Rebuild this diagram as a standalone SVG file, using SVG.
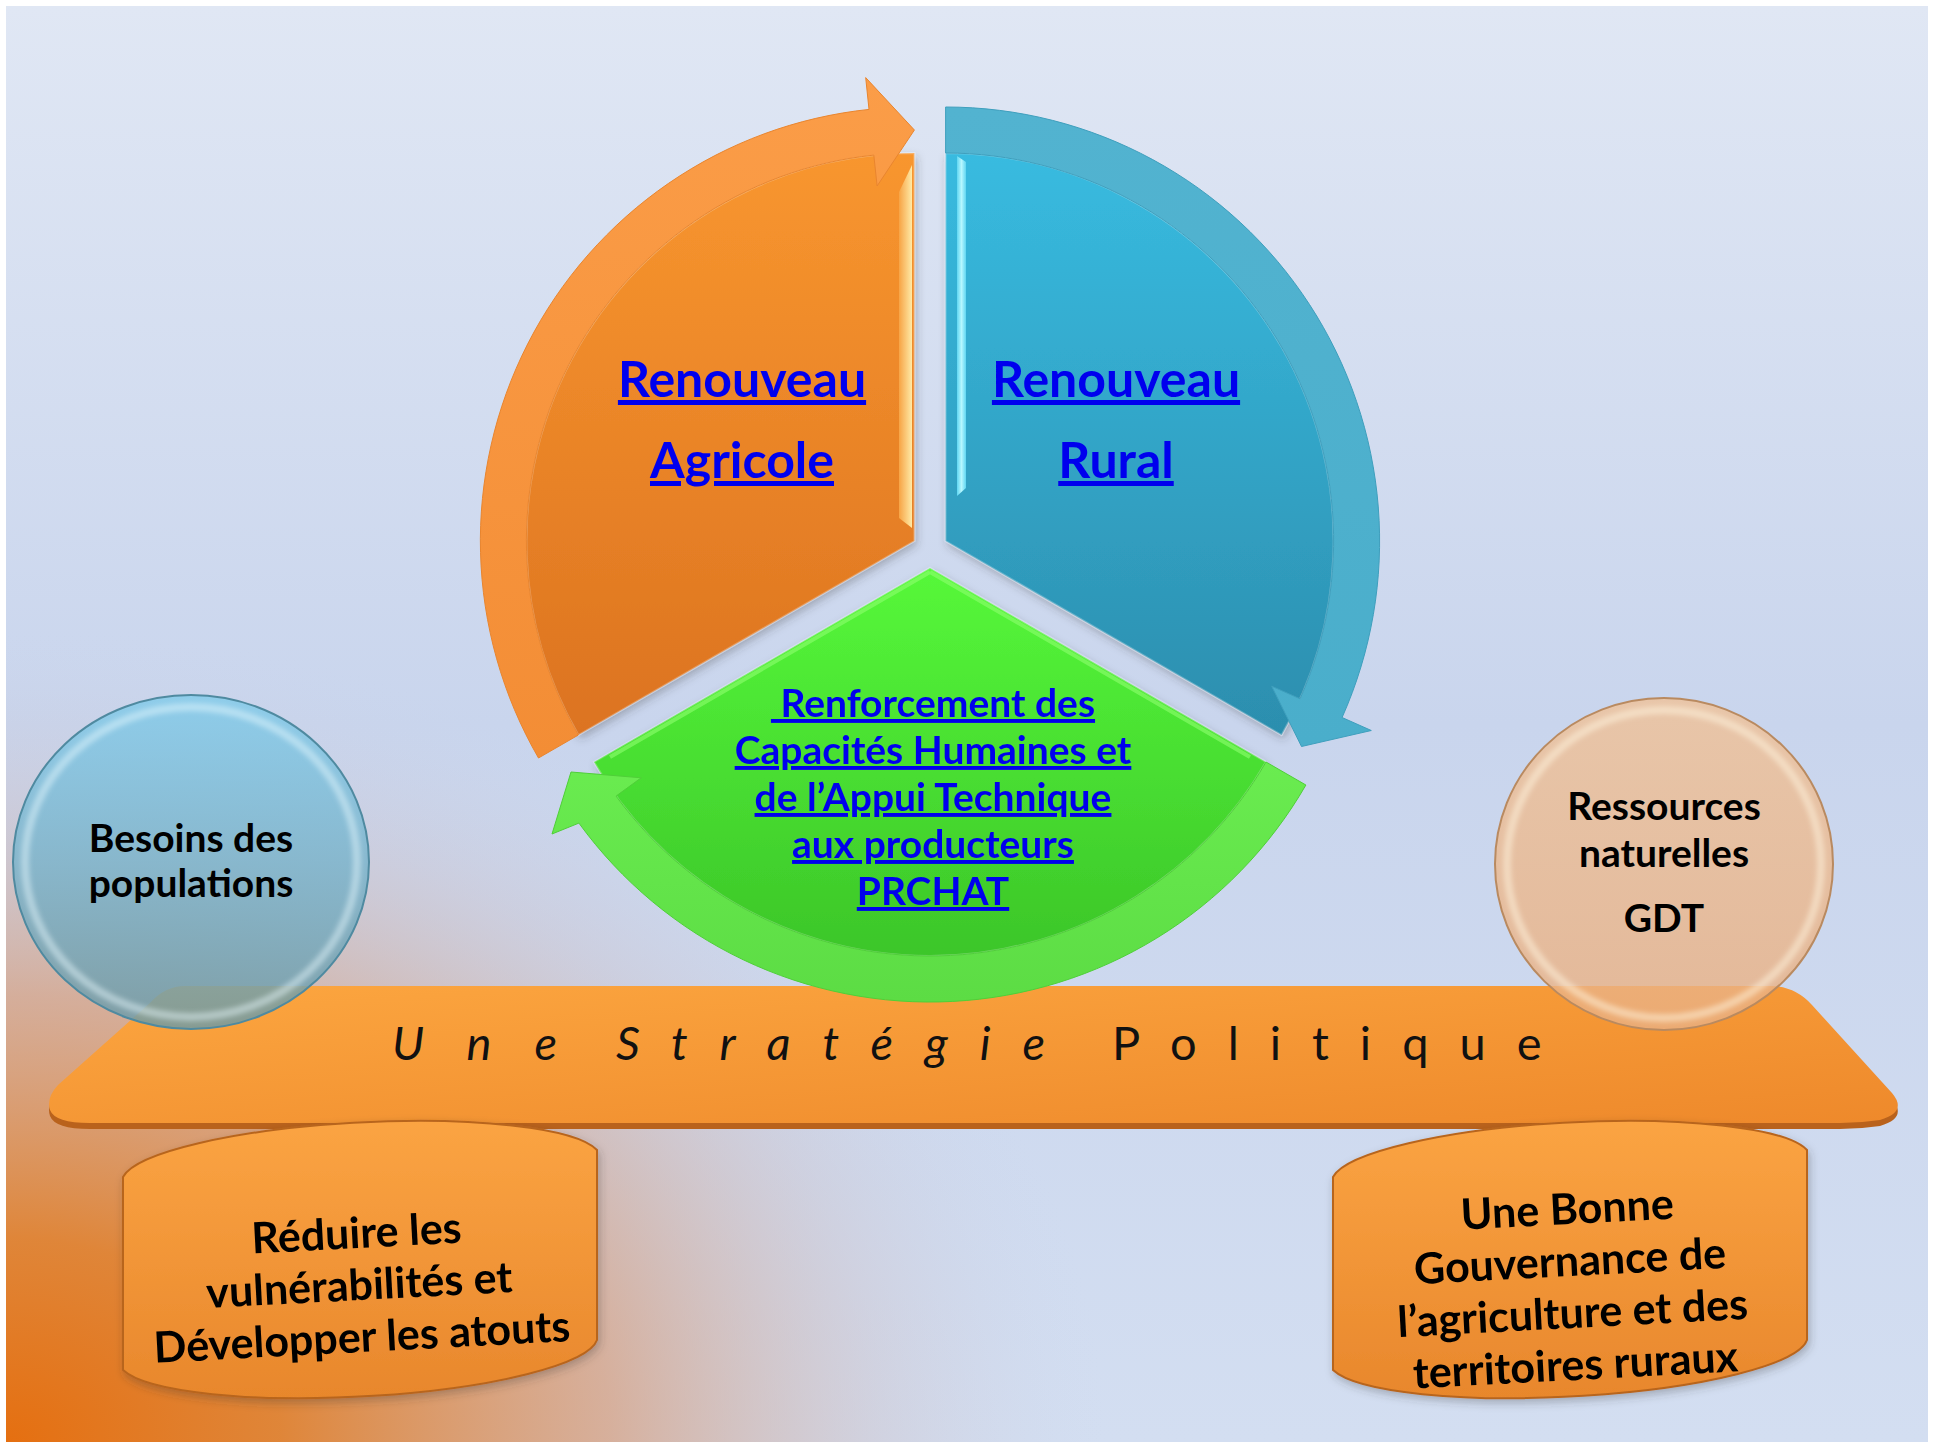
<svg xmlns="http://www.w3.org/2000/svg" width="1933" height="1442" viewBox="0 0 1933 1442">
<defs>
  <linearGradient id="bgBase" x1="0" y1="0" x2="0" y2="1">
    <stop offset="0" stop-color="#e0e7f4"/>
    <stop offset="0.5" stop-color="#c9d5ed"/>
    <stop offset="1" stop-color="#d3def1"/>
  </linearGradient>
  <radialGradient id="bgOrange" gradientUnits="userSpaceOnUse" cx="6" cy="1442" r="1100" gradientTransform="translate(6 1442) scale(1 0.74) translate(-6 -1442)">
    <stop offset="0" stop-color="#e56f10"/>
    <stop offset="0.25" stop-color="#e0812f" stop-opacity="0.95"/>
    <stop offset="0.55" stop-color="#d89c78" stop-opacity="0.7"/>
    <stop offset="0.8" stop-color="#cdbcc0" stop-opacity="0.32"/>
    <stop offset="1" stop-color="#c9d5ed" stop-opacity="0"/>
  </radialGradient>
  <linearGradient id="gOrFace" x1="0" y1="0" x2="0" y2="1">
    <stop offset="0" stop-color="#f8962f"/>
    <stop offset="1" stop-color="#dc7320"/>
  </linearGradient>
  <linearGradient id="gOrBand" x1="0" y1="0" x2="0" y2="1">
    <stop offset="0" stop-color="#fb9d48"/>
    <stop offset="1" stop-color="#f38d35"/>
  </linearGradient>
  <linearGradient id="gOrHi" x1="0" y1="0" x2="1" y2="0">
    <stop offset="0" stop-color="#f7a445"/>
    <stop offset="1" stop-color="#ffeaa6"/>
  </linearGradient>
  <linearGradient id="gBlFace" x1="0" y1="0" x2="0" y2="1">
    <stop offset="0" stop-color="#38bbe0"/>
    <stop offset="1" stop-color="#2c8eae"/>
  </linearGradient>
  <linearGradient id="gBlBand" x1="0" y1="0" x2="0" y2="1">
    <stop offset="0" stop-color="#52b3d0"/>
    <stop offset="1" stop-color="#4aaecb"/>
  </linearGradient>
  <linearGradient id="gBlHi" x1="0" y1="0" x2="1" y2="0">
    <stop offset="0" stop-color="#5fd6f2"/>
    <stop offset="0.5" stop-color="#b6f7ff"/>
    <stop offset="1" stop-color="#5fd6f2"/>
  </linearGradient>
  <linearGradient id="gGrFace" x1="0" y1="0" x2="0" y2="1">
    <stop offset="0" stop-color="#56f83a"/>
    <stop offset="1" stop-color="#3cc629"/>
  </linearGradient>
  <linearGradient id="gGrBand" x1="0" y1="0" x2="0" y2="1">
    <stop offset="0" stop-color="#6aec50"/>
    <stop offset="1" stop-color="#5cdc44"/>
  </linearGradient>
  <linearGradient id="gBar" x1="0" y1="0" x2="1" y2="1">
    <stop offset="0" stop-color="#fca640"/>
    <stop offset="1" stop-color="#ee892b"/>
  </linearGradient>
  <linearGradient id="gCyl" x1="0" y1="0" x2="0" y2="1">
    <stop offset="0" stop-color="#fba443"/>
    <stop offset="1" stop-color="#e8872c"/>
  </linearGradient>
  <linearGradient id="gCircBlue" x1="0" y1="0" x2="0" y2="1">
    <stop offset="0" stop-color="#80cbea"/>
    <stop offset="0.5" stop-color="#77b3cb"/>
    <stop offset="1" stop-color="#6a9aa8"/>
  </linearGradient>
  <linearGradient id="gCircPeach" x1="0" y1="0" x2="0" y2="1">
    <stop offset="0" stop-color="#f0c298"/>
    <stop offset="1" stop-color="#e9b083"/>
  </linearGradient>
  <filter id="shadow" x="-10%" y="-10%" width="120%" height="130%">
    <feDropShadow dx="2" dy="4" stdDeviation="4" flood-color="#3a3a3a" flood-opacity="0.3"/>
  </filter>
  <filter id="soft" x="-5%" y="-5%" width="110%" height="110%">
    <feGaussianBlur stdDeviation="2.5"/>
  </filter>
  <style>
    .link { font-family: Lato, "Open Sans", "Liberation Sans", sans-serif; font-weight: 700; fill: #0000ee; text-decoration: underline; text-anchor: middle; }
    .title { font-size: 50px; }
    .small { font-size: 39px; }
    .dark { font-family: Lato, "Open Sans", "Liberation Sans", sans-serif; font-weight: 700; fill: #000000; text-anchor: middle; }
    .circ { font-size: 39px; }
    .cyl { font-size: 43px; }
    .bartext { font-family: Lato, "Open Sans", "Liberation Sans", sans-serif; font-weight: 400; fill: #111111; font-size: 47px; }
    .face-edge { stroke: #ffffff; stroke-opacity: 0.25; stroke-width: 2; }
    .cylinder { fill: url(#gCyl); stroke: #b8651e; stroke-width: 2; }
    .rim { fill: none; stroke-width: 8; filter: url(#soft); }
  </style>
</defs>

<g id="background">
  <rect x="0" y="0" width="1933" height="1442" fill="#ffffff"/>
  <rect x="6" y="6" width="1922" height="1436" fill="url(#bgBase)"/>
  <rect x="6" y="6" width="1922" height="1436" fill="url(#bgOrange)"/>
</g>

<g id="strategy-bar">
  <path d="M185,986 L1770,986 Q1795,986 1812,1005 L1892,1093 Q1908,1112 1880,1120 Q1860,1123 1840,1123 L90,1123 Q55,1123 50,1110 Q46,1098 58,1085 L150,1003 Q165,986 185,986 Z" fill="#b9621c" transform="translate(0,6)"/>
  <path d="M185,986 L1770,986 Q1795,986 1812,1005 L1892,1093 Q1908,1112 1880,1120 Q1860,1123 1840,1123 L90,1123 Q55,1123 50,1110 Q46,1098 58,1085 L150,1003 Q165,986 185,986 Z" fill="url(#gBar)"/>
  <text class="bartext" y="1060"><tspan x="392" font-style="italic" letter-spacing="43">Une</tspan><tspan x="616" font-style="italic" letter-spacing="32">Stratégie</tspan><tspan x="1112" letter-spacing="31">Politique</tspan></text>
</g>

<g id="node-reduire" filter="url(#shadow)">
  <path class="cylinder" d="M123,1177 A240,48 -3 0 1 597,1150 L597,1340 A240,48 -3 0 1 123,1370 Z"/>
  <g transform="rotate(-3 360 1300)">
    <text class="dark cyl" x="360" y="1248">Réduire les</text>
    <text class="dark cyl" x="360" y="1300">vulnérabilités et</text>
    <text class="dark cyl" x="360" y="1352">Développer les atouts</text>
  </g>
</g>

<g id="node-gouvernance" filter="url(#shadow)">
  <path class="cylinder" d="M1333,1177 A240,48 -3 0 1 1807,1150 L1807,1340 A240,48 -3 0 1 1333,1370 Z"/>
  <g transform="rotate(-3 1572 1300)">
    <text class="dark cyl" x="1572" y="1224">Une Bonne</text>
    <text class="dark cyl" x="1572" y="1276">Gouvernance de</text>
    <text class="dark cyl" x="1572" y="1328">l’agriculture et des</text>
    <text class="dark cyl" x="1572" y="1380">territoires ruraux</text>
  </g>
</g>

<g id="node-renouveau-agricole" filter="url(#shadow)">
  <path class="face-edge" d="M914.4,541 L578.4,735 A388,388 0 0 1 914.4,153 Z" fill="url(#gOrFace)"/>
  <polygon points="899,192 912,165 912,528 899,518" fill="url(#gOrHi)"/>
  <text class="link title" x="742" y="397">Renouveau</text>
  <text class="link title" x="742" y="478">Agricole</text>
</g>

<g id="node-renouveau-rural" filter="url(#shadow)">
  <path class="face-edge" d="M945.6,541 L945.6,153 A388,388 0 0 1 1281.6,735 Z" fill="url(#gBlFace)"/>
  <polygon points="957,156 966,162 966,488 957,496" fill="url(#gBlHi)"/>
  <text class="link title" x="1116" y="397">Renouveau</text>
  <text class="link title" x="1116" y="478">Rural</text>
</g>

<g id="node-renforcement" filter="url(#shadow)">
  <path class="face-edge" d="M930,568 L1266,762 A388,388 0 0 1 594,762 Z" fill="url(#gGrFace)"/>
  <path d="M930,572 L1250,757 M930,572 L610,757" stroke="#8dff70" stroke-opacity="0.6" stroke-width="4" fill="none"/>
  <text class="link small" x="933" y="717">&#160;Renforcement des</text>
  <text class="link small" x="933" y="764">Capacités Humaines et</text>
  <text class="link small" x="933" y="811">de l’Appui Technique</text>
  <text class="link small" x="933" y="858">aux producteurs</text>
  <text class="link small" x="933" y="905">PRCHAT</text>
</g>

<g id="connectors">
  <path id="arrow-orange" d="M578.4,735 L538.5,758 A434,434 0 0 1 869.0,109.4 L865.7,77.6 L914.4,130 L877.1,186.0 L873.8,155.1 A388,388 0 0 0 578.4,735 Z" fill="url(#gOrBand)" stroke="#e9852e" stroke-width="1"/>
  <path id="arrow-blue" d="M945.6,153 L945.6,107 A434,434 0 0 1 1342.1,717.5 L1371.3,730.5 L1301.5,746.5 L1271.7,686.2 L1300.1,698.8 A388,388 0 0 0 945.6,153 Z" fill="url(#gBlBand)" stroke="#3f9fbd" stroke-width="1"/>
  <path id="arrow-green" d="M1266,762 L1305.9,785 A434,434 0 0 1 578.9,823.1 L552.0,834.0 L571.0,772.0 L641.2,777.8 L616.1,796.1 A388,388 0 0 0 1266,762 Z" fill="url(#gGrBand)" stroke="#4fcf38" stroke-width="1"/>
</g>

<g id="node-besoins">
  <ellipse cx="191" cy="862" rx="178" ry="167" fill="url(#gCircBlue)" fill-opacity="0.8" stroke="#4f8aa0" stroke-width="2"/>
  <ellipse class="rim" cx="191" cy="862" rx="166" ry="155" stroke="#e8fbff" stroke-opacity="0.45"/>
  <text class="dark circ" x="191" y="852">Besoins des</text>
  <text class="dark circ" x="191" y="897">populations</text>
</g>

<g id="node-ressources">
  <ellipse cx="1664" cy="864" rx="169" ry="166" fill="url(#gCircPeach)" fill-opacity="0.8" stroke="#b98a60" stroke-width="2"/>
  <ellipse class="rim" cx="1664" cy="864" rx="157" ry="154" stroke="#fff6df" stroke-opacity="0.5"/>
  <text class="dark circ" x="1664" y="820">Ressources</text>
  <text class="dark circ" x="1664" y="867">naturelles</text>
  <text class="dark circ" x="1664" y="932">GDT</text>
</g>
</svg>
